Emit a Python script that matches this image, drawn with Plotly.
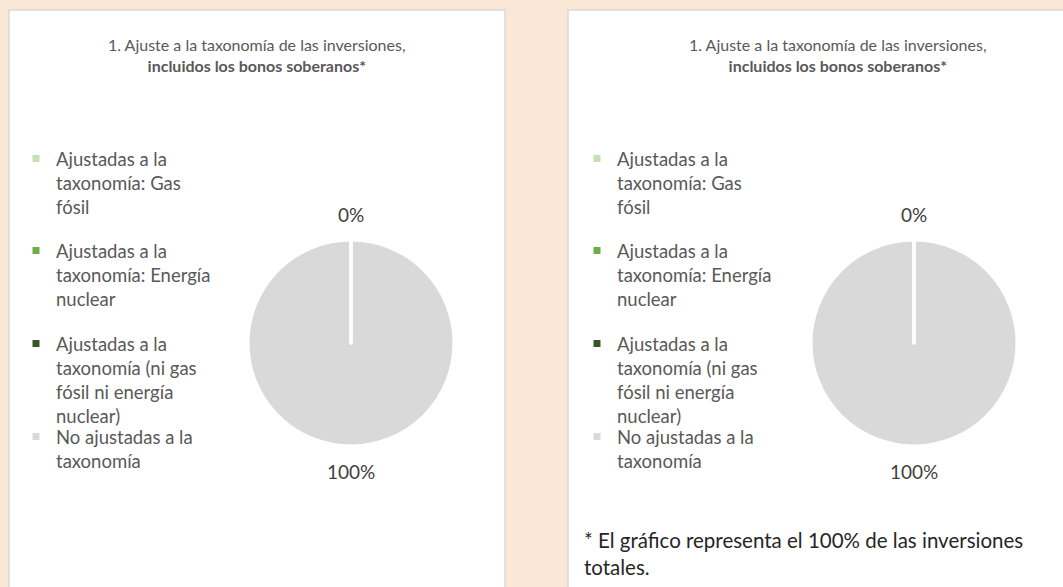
import math
import textwrap
import plotly.graph_objects as go

W, H = 1063, 587

# ---- data ----
categories = [
    "Ajustadas a la taxonomía: Gas fósil",
    "Ajustadas a la taxonomía: Energía nuclear",
    "Ajustadas a la taxonomía (ni gas fósil ni energía nuclear)",
    "No ajustadas a la taxonomía",
]
values_left = [0, 0, 0, 100]
values_right = [0, 0, 0, 100]
colors = ["#C5E0B4", "#70AD47", "#385723", "#D9D9D9"]
title_line1 = "1. Ajuste a la taxonomía de las inversiones,"
title_line2 = "incluidos los bonos soberanos*"
footnote = "* El gráfico representa el 100% de las inversiones totales."

# ---- style ----
FONT = "Lato"
BG = "#FAE7D6"
TXT = "#595959"
LEG_SIZE = 18.5


def px(x):
    return x / W


def py(y):
    return 1 - y / H


def wrap(s, w):
    return "<br>".join(textwrap.wrap(s, w))


panels = [
    dict(x0=9, x1=505, cx=351, title_x=257, legend_x=16, values=values_left),
    dict(x0=568, x1=1110, cx=914, title_x=838, legend_x=577, values=values_right),
]
R = 103
CY = 343
LABEL_GAP = 25
item_first_line = [159, 251, 344, 437]

fig = go.Figure()
shapes, annotations = [], []
legends = {}
leg_idx = 0

for p in panels:
    shapes.append(dict(type="rect", xref="paper", yref="paper",
                       x0=px(p["x0"]), x1=px(p["x1"]), y0=py(10), y1=py(620),
                       fillcolor="white", line=dict(color="#D9D9D9", width=1.5),
                       layer="below"))
    annotations.append(dict(
        xref="paper", yref="paper", x=px(p["title_x"]), y=py(33),
        xanchor="center", yanchor="top", showarrow=False, align="center",
        text=f"{title_line1}<br><b>{title_line2}</b>",
        font=dict(family=FONT, size=16, color=TXT)))
    fig.add_trace(go.Pie(
        labels=categories, values=p["values"],
        marker=dict(colors=colors, line=dict(color="white", width=3)),
        textinfo="none", sort=True, direction="clockwise", rotation=0,
        showlegend=False, hoverinfo="label+percent",
        domain=dict(x=[px(p["cx"] - R), px(p["cx"] + R)],
                    y=[py(CY + R), py(CY - R)]),
    ))
    # percentage labels, centred outside each slice's mid-angle
    total = sum(p["values"])
    order = sorted(range(len(p["values"])), key=lambda i: -p["values"][i])
    cum = 0.0
    seen = set()
    for i in order:
        v = p["values"][i]
        mid = (cum + v / 2) / total * 2 * math.pi
        cum += v
        lx = p["cx"] + (R + LABEL_GAP) * math.sin(mid)
        ly = CY - (R + LABEL_GAP) * math.cos(mid)
        txt = f"{v / total:.0%}"
        key = (round(lx), round(ly), txt)
        if key in seen:
            continue
        seen.add(key)
        annotations.append(dict(
            xref="paper", yref="paper", x=px(lx), y=py(ly),
            xanchor="center", yanchor="middle", showarrow=False, text=txt,
            font=dict(family=FONT, size=19, color="#404040")))
    for k, (cat, col) in enumerate(zip(categories, colors)):
        leg_idx += 1
        key = "legend" if leg_idx == 1 else f"legend{leg_idx}"
        fig.add_trace(go.Scatter(
            x=[None], y=[None], mode="markers", name=wrap(cat, 18),
            marker=dict(symbol="square", size=7, color=col),
            legend=key, showlegend=True, hoverinfo="skip"))
        legends[key] = dict(
            x=px(p["legend_x"]), y=py(item_first_line[k] - 19),
            xanchor="left", yanchor="top", valign="top",
            bgcolor="rgba(0,0,0,0)", borderwidth=0,
            font=dict(family=FONT, size=LEG_SIZE, color=TXT),
            itemclick=False, itemdoubleclick=False)

annotations.append(dict(
    xref="paper", yref="paper", x=px(582), y=py(526),
    xanchor="left", yanchor="top", showarrow=False, align="left",
    text=wrap(footnote, 50),
    font=dict(family=FONT, size=20.5, color="#262626")))

fig.update_layout(
    width=W, height=H, autosize=False,
    margin=dict(l=0, r=0, t=0, b=0),
    paper_bgcolor=BG, plot_bgcolor=BG,
    xaxis=dict(visible=False), yaxis=dict(visible=False),
    shapes=shapes, annotations=annotations,
    **legends,
)

fig.write_html("out.html", config={"displayModeBar": False},
               post_script="document.body.style.margin='0';")
